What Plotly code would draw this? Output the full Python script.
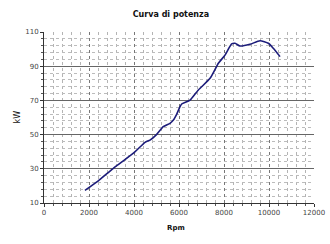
import plotly.graph_objects as go

rpm = [1820, 2400, 3080, 3525, 4050, 4490, 4710, 5000, 5300, 5600, 5750, 5900, 6045, 6120, 6490, 6860, 7380, 7750, 8045, 8340, 8490, 8710, 9155, 9600, 9970, 10190, 10490]
kw = [17.4, 22.8, 30.3, 34.6, 40.0, 45.5, 46.8, 50.0, 54.6, 56.6, 58.5, 62.0, 66.3, 67.9, 70.2, 76.1, 82.9, 91.7, 96.5, 103.0, 103.4, 101.8, 102.8, 104.9, 103.4, 100.5, 95.6]

x_ticks = [0, 2000, 4000, 6000, 8000, 10000, 12000]
y_ticks = [10, 30, 50, 70, 90, 110]

fig = go.Figure()
fig.add_trace(go.Scatter(x=rpm, y=kw, mode="lines", line=dict(color="#1c1c7a", width=1.6, shape="spline", smoothing=0.6), hoverinfo="skip"))

font = "DejaVu Sans"
fig.update_layout(
    width=330, height=244,
    margin=dict(l=44, r=16, t=32, b=41, autoexpand=False),
    paper_bgcolor="white", plot_bgcolor="white",
    showlegend=False,
    title=dict(text="<b>Curva di potenza</b>", x=0.518, xanchor="center", y=0.94, yanchor="middle",
               font=dict(family=font, size=8, color="#111")),
    font=dict(family=font, size=7, color="#333"),
    annotations=[
        dict(text="kW", xref="paper", yref="paper", x=-0.1, y=0.5, xanchor="center", yanchor="middle",
             textangle=-90, showarrow=False, font=dict(family=font, size=8, color="#111")),
        dict(text="<b>Rpm</b>", xref="paper", yref="paper", x=0.49, y=-0.145, xanchor="center", yanchor="middle",
             showarrow=False, font=dict(family=font, size=7, color="#111")),
    ],
)
fig.update_xaxes(
    automargin=False,
    range=[0, 12000], tickvals=x_ticks, ticktext=[str(v) for v in x_ticks],
    showline=True, linecolor="#333", linewidth=1, mirror=False,
    ticks="outside", ticklen=3, tickcolor="#333",
    showgrid=True, gridcolor="#777", griddash="dot", gridwidth=1,
    minor=dict(dtick=400, tick0=0, showgrid=True, gridcolor="#b4b4b4", gridwidth=1, ticks="outside", ticklen=2, tickcolor="#555"),
    zeroline=False,
    tickfont=dict(size=7, color="#444"),
)
fig.update_yaxes(
    automargin=False,
    range=[10, 110], tickvals=y_ticks, ticktext=[str(v) for v in y_ticks],
    showline=True, linecolor="#333", linewidth=1,
    ticks="outside", ticklen=3, tickcolor="#333",
    showgrid=True, gridcolor="#666", gridwidth=1,
    minor=dict(dtick=4, tick0=10, showgrid=True, gridcolor="#bcbcbc", griddash="3px,3px", gridwidth=1, ticks="outside", ticklen=2, tickcolor="#555"),
    zeroline=False,
    tickfont=dict(size=7, color="#444"),
)
fig.write_html("out.html")
